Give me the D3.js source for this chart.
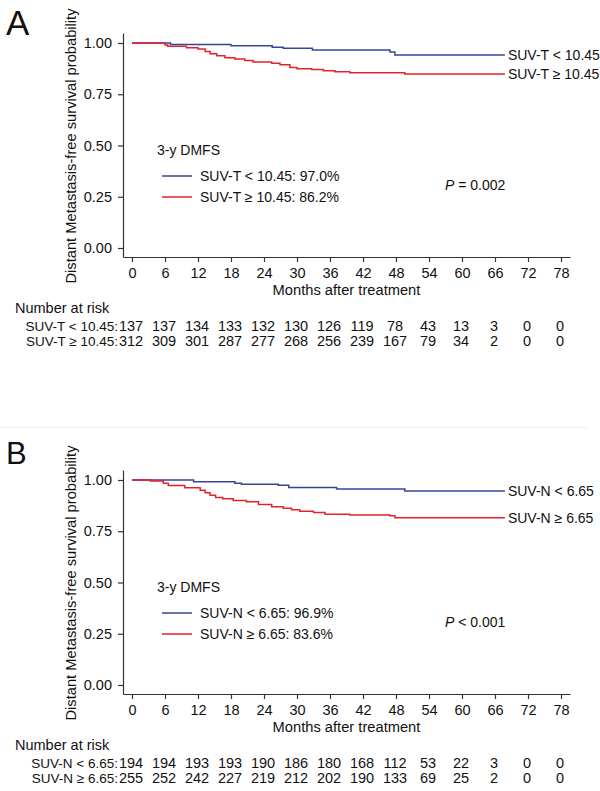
<!DOCTYPE html>
<html>
<head>
<meta charset="utf-8">
<script src="https://cdn.jsdelivr.net/npm/d3@7"></script>
<style>
  html, body { margin: 0; padding: 0; background: #fff; }
  svg { display: block; }
  text { font-family: "Liberation Sans", Arial, Helvetica, sans-serif; fill: #111; }
</style>
</head>
<body>
<svg id="chart" width="600" height="791"></svg>
<script>
// ---------- data ----------
const timeTicks = [0, 6, 12, 18, 24, 30, 36, 42, 48, 54, 60, 66, 72, 78];
const survTicks = [0, 0.25, 0.5, 0.75, 1];

// Panel A: SUV-T
const aLowT  = [0, 7, 18, 25.5, 27.5, 32.8, 46.9, 47.8, 67.8];
const aLowS  = [1, 0.993, 0.986, 0.979, 0.974, 0.966, 0.956, 0.942, 0.942];
const aHighT = [0, 6.0, 6.5, 9.9, 12, 13.3, 14.2, 15.4, 16.9, 18.7, 20.5, 22, 25.4, 26.9, 28.7, 30, 32.7, 34.8, 36.9, 39.6, 49.6, 67.8];
const aHighS = [1, 0.990, 0.984, 0.977, 0.971, 0.958, 0.948, 0.938, 0.928, 0.922, 0.915, 0.907, 0.901, 0.894, 0.881, 0.875, 0.871, 0.865, 0.860, 0.855, 0.849, 0.849];
const aRiskLow  = [137, 137, 134, 133, 132, 130, 126, 119, 78, 43, 13, 3, 0, 0];
const aRiskHigh = [312, 309, 301, 287, 277, 268, 256, 239, 167, 79, 34, 2, 0, 0];
const aGroups = ["SUV-T < 10.45", "SUV-T \u2265 10.45"];
const aRates  = ["97.0%", "86.2%"];
const aP = "= 0.002";

// Panel B: SUV-N
const bLowT  = [0, 11.2, 18.7, 19.9, 26.6, 28.5, 37.2, 49.6, 67.8];
const bLowS  = [1, 0.992, 0.984, 0.979, 0.974, 0.964, 0.956, 0.946, 0.946];
const bHighT = [0, 3.3, 5.7, 6.6, 9.6, 12.4, 13.3, 14.2, 15.2, 16.5, 18.4, 20.8, 23, 25.4, 27.5, 29, 30.5, 33, 35.1, 39.6, 46.9, 47.8, 67.8];
const bHighS = [1, 0.995, 0.984, 0.973, 0.962, 0.950, 0.938, 0.926, 0.915, 0.908, 0.900, 0.894, 0.880, 0.870, 0.862, 0.855, 0.848, 0.842, 0.833, 0.829, 0.826, 0.816, 0.816];
const bRiskLow  = [194, 194, 193, 193, 190, 186, 180, 168, 112, 53, 22, 3, 0, 0];
const bRiskHigh = [255, 252, 242, 227, 219, 212, 202, 190, 133, 69, 25, 2, 0, 0];
const bGroups = ["SUV-N < 6.65", "SUV-N \u2265 6.65"];
const bRates  = ["96.9%", "83.6%"];
const bP = "< 0.001";

const colors = ["#34449a", "#e4222b"];

// ---------- drawing ----------
const svg = d3.select("#chart");
svg.append("rect").attr("width", 600).attr("height", 791).attr("fill", "#fff");

// faint separator between panels
svg.append("line").attr("x1", 0).attr("x2", 588).attr("y1", 427.5).attr("y2", 427.5)
  .attr("stroke", "#f0f0f0").attr("stroke-width", 1);

// scales (shared geometry; panels are translated)
const x = d3.scaleLinear().domain([-1.636, 79.636]).range([123, 570]);
const y = d3.scaleLinear().domain([-0.0439, 1.0488]).range([257, 33]);

function drawPanel(dy, letter, letterSize, letterY, lowT, lowS, highT, highS, riskLow, riskHigh, groups, rates, pText) {
  const g = svg.append("g").attr("transform", `translate(0,${dy})`);

  g.append("text").attr("x", 6).attr("y", letterY).attr("font-size", letterSize)
    .text(letter);

  // axes
  const yAxis = d3.axisLeft(y).tickValues(survTicks).tickFormat(d3.format(".2f"))
    .tickSize(5).tickPadding(6).tickSizeOuter(0);
  const ya = g.append("g").attr("transform", "translate(123,0)").call(yAxis);
  const xAxis = d3.axisBottom(x).tickValues(timeTicks).tickFormat(d3.format("d"))
    .tickSize(5).tickPadding(6).tickSizeOuter(0);
  const xa = g.append("g").attr("transform", "translate(0,257)").call(xAxis);
  [ya, xa].forEach(a => {
    a.selectAll("path, line").attr("stroke", "#333").attr("stroke-width", 1.2);
    a.selectAll("text").attr("font-size", 14.5).attr("fill", "#111")
      .style("font-family", '"Liberation Sans", Arial, sans-serif');
  });

  // axis titles
  g.append("text").attr("transform", `translate(76,146) rotate(-90)`)
    .attr("text-anchor", "middle").attr("font-size", 14.7)
    .text("Distant Metastasis-free survival probability");
  g.append("text").attr("x", (x(0) + x(78)) / 2).attr("y", 295)
    .attr("text-anchor", "middle").attr("font-size", 14.7)
    .text("Months after treatment");

  // curves
  const line = d3.line().x(d => x(d[0])).y(d => y(d[1])).curve(d3.curveStepAfter);
  const series = [d3.zip(lowT, lowS), d3.zip(highT, highS)];
  series.forEach((s, i) => {
    g.append("path").datum(s).attr("d", line).attr("fill", "none")
      .attr("stroke", colors[i]).attr("stroke-width", 1.5);
    const last = s[s.length - 1];
    g.append("text").attr("x", x(last[0]) + 3).attr("y", y(last[1]) + 5)
      .attr("font-size", 14).text(groups[i]);
  });

  // legend
  g.append("text").attr("x", 157).attr("y", 155).attr("font-size", 14).text("3-y DMFS");
  [176, 197].forEach((ly, i) => {
    g.append("line").attr("x1", 162).attr("x2", 192).attr("y1", ly).attr("y2", ly)
      .attr("stroke", colors[i]).attr("stroke-width", 1.5);
    g.append("text").attr("x", 200).attr("y", ly + 5).attr("font-size", 14)
      .text(`${groups[i]}: ${rates[i]}`);
  });
  const pt = g.append("text").attr("x", 445).attr("y", 190).attr("font-size", 14);
  pt.append("tspan").attr("font-style", "italic").text("P");
  pt.append("tspan").text(" " + pText);

  // number at risk
  g.append("text").attr("x", 15).attr("y", 313).attr("font-size", 14.5).text("Number at risk");
  [riskLow, riskHigh].forEach((row, i) => {
    const ry = 331 + i * 15;
    g.append("text").attr("x", 118).attr("y", ry).attr("text-anchor", "end")
      .attr("font-size", 13.5).text(groups[i] + ":");
    g.selectAll(null).data(row).enter().append("text")
      .attr("x", (d, j) => x(timeTicks[j]) - 1).attr("y", ry)
      .attr("text-anchor", "middle").attr("font-size", 14.5).text(d => d);
  });
}

drawPanel(0, "A", 35, 35, aLowT, aLowS, aHighT, aHighS, aRiskLow, aRiskHigh, aGroups, aRates, aP);
drawPanel(437, "B", 31, 27, bLowT, bLowS, bHighT, bHighS, bRiskLow, bRiskHigh, bGroups, bRates, bP);
</script>
</body>
</html>
